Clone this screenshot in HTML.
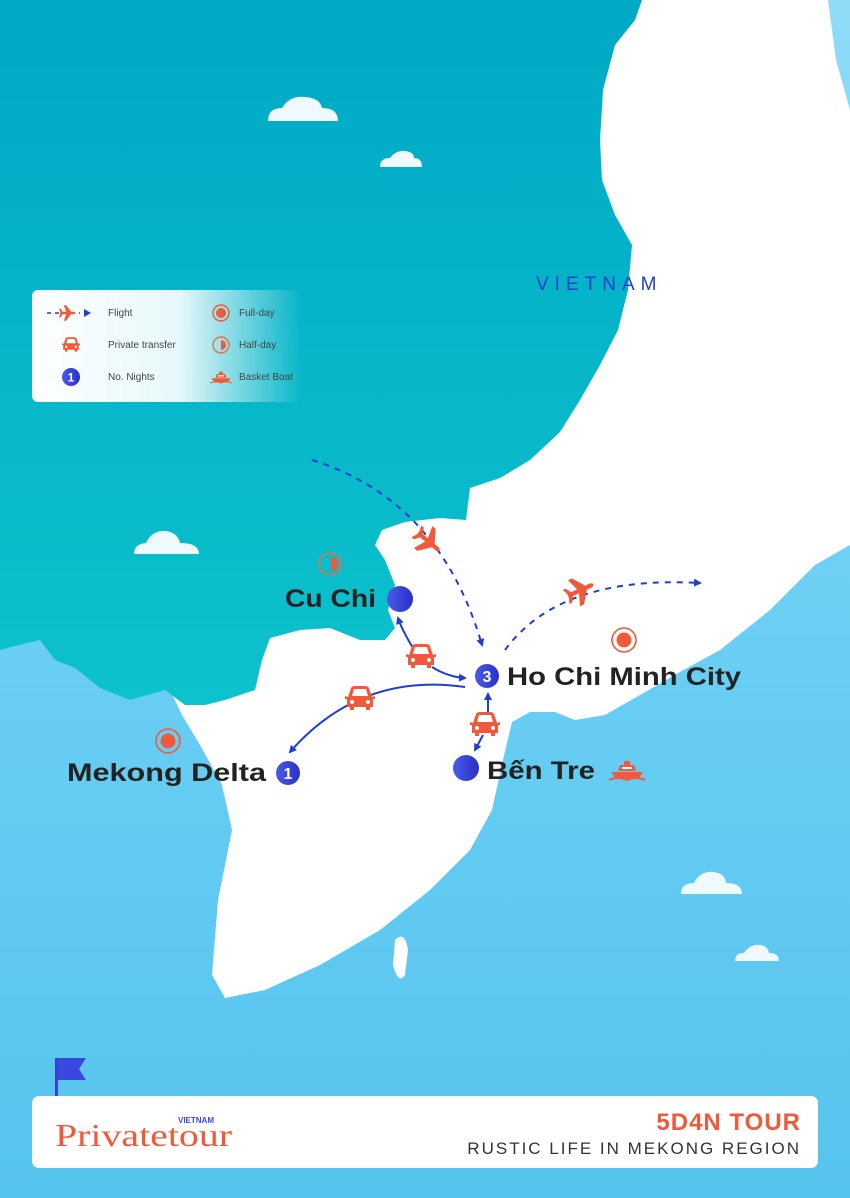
<!DOCTYPE html>
<html><head><meta charset="utf-8"><style>
html,body{margin:0;padding:0;width:850px;height:1198px;overflow:hidden}
svg{display:block}
text{font-family:"Liberation Sans",sans-serif}
</style></head><body>
<svg width="850" height="1198" viewBox="0 0 850 1198" xmlns="http://www.w3.org/2000/svg">
<defs>
<linearGradient id="sea" x1="0" y1="0" x2="0" y2="1"><stop offset="0" stop-color="#8fdcf6"/><stop offset="0.5" stop-color="#6ccff4"/><stop offset="1" stop-color="#55c4ef"/></linearGradient>
<linearGradient id="teal" x1="0" y1="0" x2="0" y2="1"><stop offset="0" stop-color="#00a9c6"/><stop offset="1" stop-color="#0cc2cc"/></linearGradient>
<linearGradient id="leg" x1="0" y1="0" x2="1" y2="0"><stop offset="0" stop-color="#fff"/><stop offset="0.55" stop-color="#fff" stop-opacity="0.9"/><stop offset="1" stop-color="#fff" stop-opacity="0"/></linearGradient>
<linearGradient id="dot" x1="0" y1="0" x2="1" y2="0"><stop offset="0" stop-color="#4a5ae8"/><stop offset="1" stop-color="#2a2fc8"/></linearGradient>
<marker id="ah" markerWidth="8" markerHeight="8" refX="6" refY="4" orient="auto" markerUnits="userSpaceOnUse"><path d="M0,0 L8,4 L0,8 Z" fill="#1f3fcf"/></marker>
<g id="car"><path d="M-12,-2 L-9,-11 Q-8,-13 -5,-13 L5,-13 Q8,-13 9,-11 L12,-2 L15,-3 L15,0 L13,0 L13,8 L10,8 L10,11 L6,11 L6,8 L-6,8 L-6,11 L-10,11 L-10,8 L-13,8 L-13,0 L-15,0 L-15,-3 Z" fill="#f05a3a"/><path d="M-8,-3 L-6,-10 L6,-10 L8,-3 Z" fill="#fff"/><circle cx="-8" cy="3" r="2" fill="#fff"/><circle cx="8" cy="3" r="2" fill="#fff"/></g>
<g id="plane"><path d="M-13,-2 L10,-2 Q15,0 10,2 L-13,2 Z M-3,-2 L-7,-13 L-3,-13 L5,-2 Z M-3,2 L-7,13 L-3,13 L5,2 Z M-13,-2 L-15,-7 L-12,-7 L-9,-2 Z M-13,2 L-15,7 L-12,7 L-9,2 Z" fill="#f05a3a"/></g>
<g id="boat"><path d="M-16,2 L16,2 L11,9 L-11,9 Z" fill="#f05a3a"/><path d="M-9,1 L-7,-5 L7,-5 L9,1 Z" fill="#f05a3a"/><rect x="-3" y="-9" width="6" height="4" fill="#f05a3a"/><path d="M-18,10 Q-9,6 0,10 Q9,6 18,10" stroke="#f05a3a" stroke-width="2" fill="none"/><rect x="-5" y="-3" width="10" height="2" fill="#fff"/></g>
</defs>
<rect width="850" height="1198" fill="url(#sea)"/>
<path d="M600,0 L828,0 L836,60 L850,110 L850,545 L815,565 L770,610 L720,650 L680,672 L640,695 L605,715 L575,720 L555,712 L530,712 L512,722 L503,760 L492,810 L470,850 L430,890 L380,930 L320,965 L265,990 L225,998 L212,975 L218,900 L232,830 L222,785 L200,745 L182,715 L170,690 L150,400 Z" fill="#fff"/>
<path d="M395,940 Q405,930 408,950 L405,975 Q398,985 393,965 Z" fill="#fff"/>
<path d="M0,0 L642,0 L635,20 L615,45 L603,90 L600,140 L602,180 L615,215 L632,245 L628,290 L618,330 L600,365 L580,400 L560,432 L530,460 L500,478 L470,488 L466,520 L440,518 L405,522 L382,530 L375,545 L385,560 L395,585 L388,610 L395,628 L385,640 L360,640 L330,628 L300,630 L270,638 L262,660 L255,690 L225,700 L205,705 L185,705 L165,690 L130,700 L100,688 L75,668 L55,660 L40,640 L15,646 L0,650 Z" fill="url(#teal)"/>
<g fill="#eefaff">
<path d="M268,121 Q268,108 282,108 Q290,95 305,97 Q320,98 322,108 Q338,108 338,121 Z"/>
<path d="M380,167 Q380,158 390,158 Q396,150 405,151 Q414,152 414,158 Q422,158 422,167 Z"/>
<path d="M134,554 Q134,544 146,543 Q152,530 166,531 Q178,533 180,543 Q199,543 199,554 Z"/>
<path d="M681,894 Q681,883 694,883 Q700,871 713,872 Q725,873 726,883 Q742,883 742,894 Z"/>
<path d="M735,961 Q735,953 744,953 Q750,944 760,945 Q768,946 769,953 Q779,953 779,961 Z"/>
</g>
<rect x="32" y="290" width="270" height="112" rx="6" fill="url(#leg)"/>
<path d="M47,313 L80,313" stroke="#1f3fcf" stroke-width="1.6" stroke-dasharray="4,4"/>
<path d="M84,309 L91,313 L84,317 Z" fill="#1f3fcf"/>
<g transform="translate(68,313) scale(0.6)"><use href="#plane"/></g>
<g transform="translate(71,345) scale(0.6)"><use href="#car"/></g>
<circle cx="71" cy="377" r="9" fill="url(#dot)"/><text x="71" y="381.5" font-size="12" font-weight="bold" fill="#fff" text-anchor="middle">1</text>
<g font-size="10" fill="#444">
<text x="108" y="316">Flight</text><text x="108" y="348">Private transfer</text><text x="108" y="380">No. Nights</text>
<text x="239" y="316">Full-day</text><text x="239" y="348">Half-day</text><text x="239" y="380">Basket Boat</text></g>
<circle cx="221" cy="313" r="8" fill="none" stroke="#f05a3a" stroke-width="1.4"/><circle cx="221" cy="313" r="5" fill="#f05a3a"/>
<circle cx="221" cy="345" r="8" fill="none" stroke="#e0704f" stroke-width="1.4"/><path d="M221,340 A5,5 0 0 1 221,350 Z" fill="#f05a3a"/>
<g transform="translate(221,377) scale(0.6)"><use href="#boat"/></g>
<text x="536" y="290" font-size="19" fill="#1f3fcf" letter-spacing="6">VIETNAM</text>
<path d="M312,460 Q440,500 482,645" fill="none" stroke="#1f3fcf" stroke-width="2" stroke-dasharray="6,6" marker-end="url(#ah)"/>
<path d="M505,650 Q560,575 700,583" fill="none" stroke="#1f3fcf" stroke-width="2" stroke-dasharray="6,6" marker-end="url(#ah)"/>
<g transform="translate(429,542) rotate(40) scale(1.1)"><use href="#plane"/></g>
<g transform="translate(581,590) rotate(-25) scale(1.1)"><use href="#plane"/></g>
<path d="M413,648 Q402,630 398,618" fill="none" stroke="#1f3fcf" stroke-width="2" marker-end="url(#ah)"/>
<path d="M432,667 Q448,677 465,678" fill="none" stroke="#1f3fcf" stroke-width="2" marker-end="url(#ah)"/>
<path d="M465,687 Q360,672 290,752" fill="none" stroke="#1f3fcf" stroke-width="2" marker-end="url(#ah)"/>
<path d="M488,712 L488,694" fill="none" stroke="#1f3fcf" stroke-width="2" marker-end="url(#ah)"/>
<path d="M483,735 L475,750" fill="none" stroke="#1f3fcf" stroke-width="2" marker-end="url(#ah)"/>
<g transform="translate(421,657)"><use href="#car"/></g>
<g transform="translate(360,699)"><use href="#car"/></g>
<g transform="translate(485,725)"><use href="#car"/></g>
<circle cx="330" cy="564" r="11" fill="none" stroke="#e0704f" stroke-width="1.6"/><path d="M331,557 A7,7 0 0 1 331,571 Z" fill="#f05a3a"/>
<circle cx="624" cy="640" r="12" fill="none" stroke="#f05a3a" stroke-width="1.6"/><circle cx="624" cy="640" r="7.5" fill="#f05a3a"/>
<circle cx="168" cy="741" r="12" fill="none" stroke="#f05a3a" stroke-width="1.6"/><circle cx="168" cy="741" r="7.5" fill="#f05a3a"/>
<g transform="translate(627,770)"><use href="#boat"/></g>
<circle cx="400" cy="599" r="13" fill="url(#dot)"/>
<circle cx="466" cy="768" r="13" fill="url(#dot)"/>
<circle cx="487" cy="676" r="12" fill="url(#dot)"/><text x="487" y="682" font-size="16" font-weight="bold" fill="#fff" text-anchor="middle">3</text>
<circle cx="288" cy="773" r="12" fill="url(#dot)"/><text x="288" y="779" font-size="16" font-weight="bold" fill="#fff" text-anchor="middle">1</text>
<g font-size="25" font-weight="bold" fill="#222">
<text x="285" y="607" textLength="91" lengthAdjust="spacingAndGlyphs">Cu Chi</text>
<text x="507" y="685" textLength="234" lengthAdjust="spacingAndGlyphs">Ho Chi Minh City</text>
<text x="67" y="781" textLength="199" lengthAdjust="spacingAndGlyphs">Mekong Delta</text>
<text x="487" y="779" textLength="108" lengthAdjust="spacingAndGlyphs">Bến Tre</text></g>
<rect x="55" y="1058" width="3" height="40" fill="#3a3fd8"/>
<path d="M58,1058 L86,1058 L79,1069 L86,1080 L58,1080 Z" fill="#3a47e0"/>
<rect x="32" y="1096" width="786" height="72" rx="7" fill="#fff"/>
<text x="55" y="1146" style="font-family:'Liberation Serif',serif" font-size="32" fill="#f05a3a" textLength="177" lengthAdjust="spacingAndGlyphs">Privatetour</text>
<text x="178" y="1123" font-size="8" font-weight="bold" fill="#3a47d8">VIETNAM</text>
<text x="801" y="1130" font-size="24" font-weight="bold" fill="#f05a3a" text-anchor="end" letter-spacing="1">5D4N TOUR</text>
<text x="801" y="1154" font-size="17" fill="#333" text-anchor="end" letter-spacing="2">RUSTIC LIFE IN MEKONG REGION</text>
</svg>
</body></html>
